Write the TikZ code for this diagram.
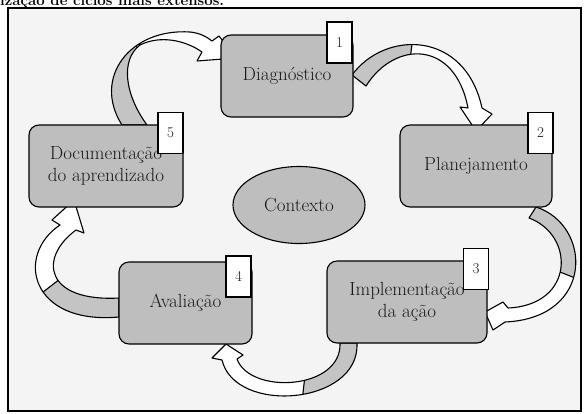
\documentclass[tikz,border=0pt]{standalone}
\usetikzlibrary{shapes.geometric}
\definecolor{boxgray}{HTML}{BEBEBE}
\definecolor{arrgray}{HTML}{C4C4C4}
\definecolor{framebg}{HTML}{F4F4F4}
\definecolor{txt}{HTML}{1A1A1A}
\tikzset{
  stepbox/.style={draw=black, line width=1.1pt, fill=boxgray, rounded corners=10pt,
    inner sep=0pt, minimum height=82pt, text=txt,
    font=\fontsize{19}{22}\selectfont, align=center},
  numbox/.style={draw=black, line width=1.2pt, fill=white, inner sep=0pt,
    minimum width=25pt, minimum height=41pt, font=\fontsize{15}{17}\selectfont, text=txt},
  arrline/.style={draw=black, line width=1.1pt, line join=round},
  twist/.style={draw=black, line width=1.1pt},
}
\newcommand\arrA[1]{\path[#1] (122,125) .. controls (92,78) and (130,28) .. (190,32)
  .. controls (200,33) and (207,37) .. (212,41) -- (219,36) -- (236,58) -- (197,61) -- (202,52)
  .. controls (185,40) and (160,35) .. (140,45) .. controls (120,60) and (125,95) .. (147,125) -- cycle;}
\newcommand\arrB[1]{\path[#1] (352,75) .. controls (385,30) and (465,30) .. (482,108)
  -- (492,114) -- (476,131) -- (460,107) -- (468,108)
  .. controls (455,40) and (395,40) .. (366,86) -- cycle;}
\newcommand\arrC[1]{\path[#1] (536,207) .. controls (592,225) and (595,318) .. (505,322)
  -- (493,330) -- (485,312) -- (503,302) -- (508,308)
  .. controls (575,305) and (575,235) .. (529,218) -- cycle;}
\newcommand\arrD[1]{\path[#1] (357,343) .. controls (360,405) and (235,415) .. (222,360)
  -- (212,358) -- (226,344) -- (243,355) -- (237,359)
  .. controls (250,395) and (342,390) .. (340,343) -- cycle;}
\newcommand\arrE[1]{\path[#1] (119,317) .. controls (30,325) and (15,255) .. (60,225)
  -- (52,220) -- (74,200) -- (84,233) -- (76,230)
  .. controls (38,258) and (45,302) .. (119,298) -- cycle;}
\begin{document}
\begin{tikzpicture}[x=1pt,y=-1pt]
\useasboundingbox (0,0) rectangle (585,413);
\fill[white] (0,0) rectangle (585,413);
\node[anchor=base west, inner sep=0pt, font=\bfseries\fontsize{15}{18}\selectfont] (cap) at (0,5) {ização de ciclos mais extensos.};
\draw[line width=2.5pt, fill=framebg] (8,8) rectangle (581,411);

% curved block arrows
\arrA{fill=white}
\begin{scope}\arrA{clip}
  \fill[arrgray] (80,140) -- (170,140) -- (150,58) -- (118,38) -- (80,38) -- cycle;
  \draw[twist] (150,58) .. controls (135,45) .. (118,38);
\end{scope}
\arrA{arrline}

\arrB{fill=white}
\begin{scope}\arrB{clip}
  \fill[arrgray] (340,20) -- (415,20) -- (405,100) -- (340,100) -- cycle;
  \draw[twist] (415,20) -- (405,100);
\end{scope}
\arrB{arrline}

\arrC{fill=white}
\begin{scope}\arrC{clip}
  \fill[arrgray] (510,195) -- (600,195) -- (600,288) -- (555,270) -- (510,270) -- cycle;
  \draw[twist] (600,288) -- (555,270);
\end{scope}
\arrC{arrline}

\arrD{fill=white}
\begin{scope}\arrD{clip}
  \fill[arrgray] (310,330) -- (370,330) -- (370,420) -- (300,420) -- cycle;
  \draw[twist] (310,330) -- (300,420);
\end{scope}
\arrD{arrline}

\arrE{fill=white}
\begin{scope}\arrE{clip}
  \fill[arrgray] (20,310) -- (65,275) -- (130,275) -- (130,340) -- (20,340) -- cycle;
  \draw[twist] (20,310) -- (65,275);
\end{scope}
\arrE{arrline}

% step boxes
\node[stepbox, minimum width=132pt] (s1) at (287,76) {Diagnóstico};
\node[stepbox, minimum width=152pt] (s2) at (476,166) {Planejamento};
\node[stepbox, minimum width=160pt] (s3) at (407,302) {Implementação\\da ação};
\node[stepbox, minimum width=133pt] (s4) at (185.5,303) {Avaliação};
\node[stepbox, minimum width=154pt] (s5) at (106,166) {Documentação\\do aprendizado};

\node[numbox] (n1) at (339.5,42.5) {1};
\node[numbox] (n2) at (540.5,133) {2};
\node[numbox] (n3) at (476,269) {3};
\node[numbox] (n4) at (238.5,276.5) {4};
\node[numbox] (n5) at (170.5,133) {5};

\node[ellipse, draw=black, line width=1.1pt, fill=boxgray, minimum width=132pt,
  minimum height=77pt, inner sep=0pt, text=txt, font=\fontsize{19}{22}\selectfont]
  (ctx) at (299,205) {Contexto};
\end{tikzpicture}
\end{document}
